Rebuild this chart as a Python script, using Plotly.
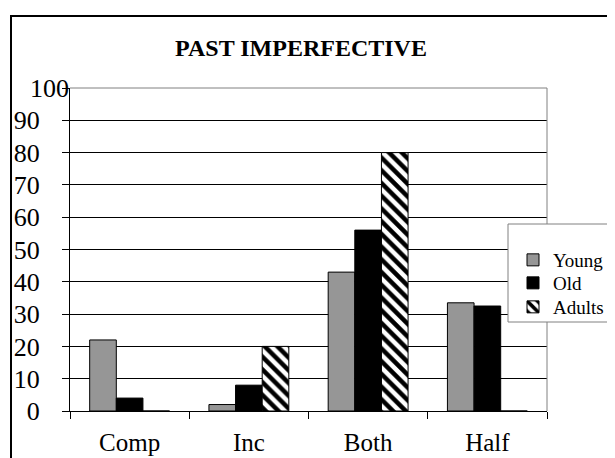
import plotly.graph_objects as go

# ---- data ----
categories = ["Comp", "Inc", "Both", "Half"]
young = [22, 2, 43, 33.5]
old = [4, 8, 56, 32.5]
adults = [0, 20, 80, 0]
series_names = ["Young", "Old", "Adults"]
y_tick_values = [0, 10, 20, 30, 40, 50, 60, 70, 80, 90, 100]
y_tick_labels = ["0", "10", "20", "30", "40", "50", "60", "70", "80", "90", "100"]
title_text = "PAST IMPERFECTIVE"

# ---- geometry (figure pixels; the page adds an 8px body margin) ----
W, H = 607, 450
L, R, T, B = 62, 539, 80, 403
PW, PH = R - L, B - T


def px_x(p):
    return (p - L) / PW


def px_y(p):
    return (B - p) / PH


FONT = "Liberation Serif, Times New Roman, serif"
LEG_FONT = dict(family=FONT, size=19, color="#000000")

fig = go.Figure()
fig.add_trace(go.Bar(
    name=series_names[0], x=categories, y=young, legend="legend",
    marker=dict(color="#969696", line=dict(color="#000000", width=1)),
))
fig.add_trace(go.Bar(
    name=series_names[1], x=categories, y=old, legend="legend2",
    marker=dict(color="#000000", line=dict(color="#000000", width=1)),
))
fig.add_trace(go.Bar(
    name=series_names[2], x=categories, y=adults, legend="legend3",
    marker=dict(color="#ffffff", line=dict(color="#000000", width=1),
                pattern=dict(shape="\\", fgcolor="#000000", bgcolor="#ffffff",
                             size=9, solidity=0.5, fillmode="replace")),
))

ticktext = list(y_tick_labels)
top_label = ticktext[-1]
ticktext[-1] = ""

shapes = [
    # plot area top and right border (gray)
    dict(type="line", xref="paper", yref="paper", x0=0, x1=1, y0=1, y1=1,
         line=dict(color="#808080", width=1), layer="above"),
    dict(type="line", xref="paper", yref="paper", x0=1, x1=1, y0=0, y1=1,
         line=dict(color="#808080", width=1), layer="above"),
    # legend box
    dict(type="rect", xref="paper", yref="paper",
         x0=px_x(500), x1=px_x(640), y0=px_y(314), y1=px_y(216),
         line=dict(color="#808080", width=1), fillcolor="#ffffff", layer="above"),
    # outer chart border
    dict(type="rect", xref="paper", yref="paper",
         x0=px_x(3), x1=px_x(640), y0=px_y(480), y1=px_y(8),
         line=dict(color="#000000", width=2), fillcolor="rgba(0,0,0,0)", layer="above"),
]


def leg(top):
    return dict(x=px_x(505), y=px_y(top), xanchor="left", yanchor="top",
                bgcolor="rgba(0,0,0,0)", borderwidth=0, font=LEG_FONT, itemwidth=30)


fig.update_layout(
    width=W, height=H,
    margin=dict(l=L, r=W - R, t=T, b=H - B, autoexpand=False),
    paper_bgcolor="#ffffff", plot_bgcolor="#ffffff",
    barmode="group", bargap=0.33, bargroupgap=0,
    font=dict(family=FONT, color="#000000", size=20),
    showlegend=True,
    legend=leg(233),
    legend2=leg(256),
    legend3=leg(280),
    title=dict(text="<b>" + title_text + "</b>", x=293 / W, xanchor="center",
               y=1 - 40 / H, yanchor="middle",
               font=dict(family=FONT, size=24, color="#000000")),
    xaxis=dict(type="category", tickson="boundaries", ticks="outside", ticklen=7,
               tickcolor="#000000", showline=True, linecolor="#000000", linewidth=1,
               showgrid=False, tickfont=dict(family=FONT, size=25, color="#000000"),
               ticklabelstandoff=9, fixedrange=True),
    yaxis=dict(range=[0, 100], tickvals=y_tick_values, ticktext=ticktext,
               ticks="outside", ticklen=7, tickcolor="#000000",
               showline=True, linecolor="#000000", linewidth=1,
               showgrid=True, gridcolor="#000000", gridwidth=1, zeroline=False,
               tickfont=dict(family=FONT, size=26, color="#000000"),
               ticklabelstandoff=17, fixedrange=True),
    shapes=shapes,
    annotations=[dict(text=top_label, xref="paper", yref="y", x=px_x(20), y=y_tick_values[-1],
                      xanchor="left", yanchor="middle", showarrow=False,
                      font=dict(family=FONT, size=26, color="#000000"))],
)

fig.write_html("out.html")
